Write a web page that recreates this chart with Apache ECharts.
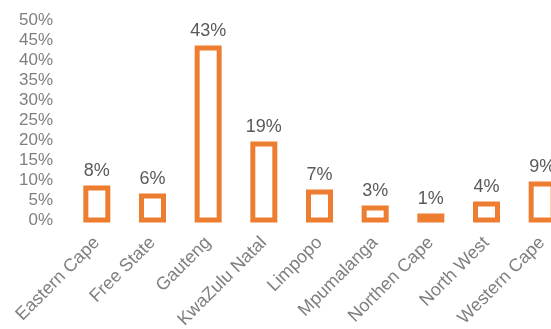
<!DOCTYPE html>
<html>
<head>
<meta charset="utf-8">
<style>
  html, body { margin: 0; padding: 0; background: #ffffff; }
  #chart { width: 551px; height: 329px; }
</style>
<script src="https://cdn.jsdelivr.net/npm/echarts@6/dist/echarts.min.js"></script>
</head>
<body>
<div id="chart"></div>
<script>
// Share by province (percent)
const provinces = ['Eastern Cape', 'Free State', 'Gauteng', 'KwaZulu Natal', 'Limpopo',
                   'Mpumalanga', 'Northen Cape', 'North West', 'Western Cape'];
const shares = [8, 6, 43, 19, 7, 3, 1, 4, 9];
const yTicks = [0, 5, 10, 15, 20, 25, 30, 35, 40, 45, 50];

const ORANGE = '#ED7D31';
const FONT = 'Liberation Sans, Arial, sans-serif';
const BAR_W = 22;      // width of the bar body, measured on the outline's centre line
const OUTLINE = 5;     // outline straddles the bar edge (half inside, half outside)

// Hollow bar: white body with a thick orange outline centred on the data edges,
// so even very small values keep a visible frame.
function renderHollowBar(params, api) {
  const idx = api.value(0);
  const val = api.value(1);
  const top = api.coord([idx, val]);
  const base = api.coord([idx, 0]);
  return {
    type: 'rect',
    shape: { x: top[0] - BAR_W / 2, y: top[1], width: BAR_W, height: base[1] - top[1] },
    style: { fill: '#ffffff', stroke: ORANGE, lineWidth: OUTLINE },
    textContent: {
      style: {
        text: val + '%',
        fill: '#595959',
        font: '18px ' + FONT
      }
    },
    textConfig: { position: 'top', distance: 5 }
  };
}

const chart = echarts.init(document.getElementById('chart'), null, { renderer: 'canvas' });
chart.setOption({
  animation: false,
  backgroundColor: '#ffffff',
  // the plot runs past the right edge of the canvas, so the last bar is cut off
  grid: { left: 69, top: 20, width: 501, height: 200, containLabel: false, outerBoundsMode: 'none' },
  xAxis: {
    type: 'category',
    data: provinces,
    axisLine: { show: false },
    axisTick: { show: false },
    axisLabel: {
      interval: 0,
      rotate: 45,
      margin: 20,
      color: '#7f7f7f',
      fontFamily: FONT,
      fontSize: 18
    }
  },
  yAxis: {
    type: 'value',
    min: yTicks[0],
    max: yTicks[yTicks.length - 1],
    interval: 5,
    splitLine: { show: false },
    axisLine: { show: false },
    axisTick: { show: false },
    axisLabel: {
      margin: 16,
      color: '#7f7f7f',
      fontFamily: FONT,
      fontSize: 17,
      formatter: v => v + '%'
    }
  },
  series: [{
    type: 'custom',
    clip: false,
    renderItem: renderHollowBar,
    encode: { x: 0, y: 1 },
    data: shares.map((v, i) => [i, v])
  }]
});
</script>
</body>
</html>
